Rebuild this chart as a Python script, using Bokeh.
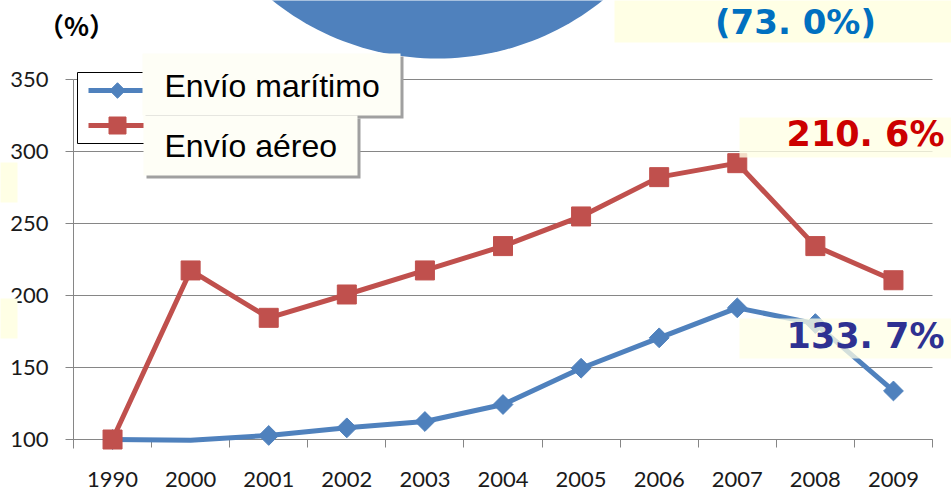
import math

from bokeh.embed import file_html
from bokeh.models import (BoxAnnotation, CDSView, ColumnDataSource, FixedTicker,
                          IndexFilter, Label, PolyAnnotation, Range1d)
from bokeh.plotting import figure
from bokeh.resources import INLINE

# ---- data -------------------------------------------------------------
years = ["1990", "2000", "2001", "2002", "2003", "2004",
         "2005", "2006", "2007", "2008", "2009"]
maritimo = [100.0, 99.5, 102.8, 108.1, 112.5, 124.3,
            149.5, 170.6, 191.4, 180.5, 133.7]
aereo = [100.0, 217.4, 184.5, 200.7, 217.4, 234.3,
         254.9, 282.2, 291.9, 234.3, 210.6]
y_ticks = [100, 150, 200, 250, 300, 350]
series_names = ["Envío marítimo", "Envío aéreo"]
share_pct = 73.0
unit_label = "（%）"

# ---- styling ----------------------------------------------------------
BLUE = "#4F81BD"
RED = "#C0504D"
GRID = "#868686"
NOTE_FILL = "#FFFFE5"
CALLOUT_FILL = "#FEFEF6"
SHADOW = "#A0A0A0"

W, H = 951, 490
AXIS_L, AXIS_R = 73, 932            # pixel columns of the category span
AXIS_T, AXIS_B = 79, 439            # pixel rows of y=350 and y=100
PX_PER_CAT = (AXIS_R - AXIS_L) / len(years)
PX_PER_UNIT = (AXIS_B - AXIS_T) / (y_ticks[-1] - y_ticks[0])
TEXT_DY = 12                        # alphabetic-baseline correction for labels


def xd(px):
    """Canvas pixel column -> x data coordinate."""
    return (px - AXIS_L) / PX_PER_CAT - 0.5


def yd(py):
    """Canvas pixel row -> y data coordinate."""
    return y_ticks[-1] - (py - AXIS_T) / PX_PER_UNIT


def pct_text(v):
    return f"{v:.1f}".replace(".", ". ") + "%"


x_lo, x_hi = -0.5, len(years) - 0.5

p = figure(width=W, height=H,
           x_range=Range1d(xd(0), xd(W)),
           y_range=Range1d(yd(H), yd(0)),
           output_backend="svg", toolbar_location=None,
           min_border_left=0, min_border_right=0,
           min_border_top=0, min_border_bottom=0)
p.outline_line_color = None
p.background_fill_color = "white"
p.border_fill_color = "white"

# ---- axes (pinned inside the frame) -----------------------------------
xa = p.xaxis[0]
xa.fixed_location = y_ticks[0]
xa.bounds = (x_lo, x_hi)
xa.level = "underlay"
xa.ticker = FixedTicker(ticks=list(range(len(years))),
                        minor_ticks=[i - 0.5 for i in range(len(years) + 1)])
xa.major_label_overrides = {i: y for i, y in enumerate(years)}
xa.axis_line_color = GRID
xa.major_tick_line_color = None
xa.major_tick_in = 0
xa.major_tick_out = 0
xa.minor_tick_line_color = GRID
xa.minor_tick_in = 0
xa.minor_tick_out = 8
xa.major_label_standoff = 24
xa.major_label_text_font = "Lato"
xa.major_label_text_font_size = "22px"
xa.major_label_text_color = "#1a1a1a"

ya = p.yaxis[0]
ya.fixed_location = x_lo
ya.bounds = (yd(448), y_ticks[-1])
ya.level = "underlay"
ya.ticker = FixedTicker(ticks=y_ticks, minor_ticks=[])
ya.axis_line_color = GRID
ya.major_tick_line_color = GRID
ya.major_tick_in = 0
ya.major_tick_out = 8
ya.minor_tick_line_color = None
ya.major_label_standoff = 17
ya.major_label_text_font = "Lato"
ya.major_label_text_font_size = "22px"
ya.major_label_text_color = "#1a1a1a"

p.xgrid.visible = False
grid = p.ygrid[0]
grid.ticker = FixedTicker(ticks=y_ticks, minor_ticks=[])
if "cross_bounds" in grid.properties():
    grid.cross_bounds = (x_lo, x_hi)
    grid.grid_line_color = GRID
    grid.grid_line_width = 1
else:
    grid.visible = False
    p.segment(x0=x_lo, x1=x_hi, y0=y_ticks, y1=y_ticks,
              line_color=GRID, line_width=1, level="underlay")


# ---- helpers for boxes and texts placed by canvas pixels -----------------
def note_box(l, t, r, b, color=NOTE_FILL, alpha=1.0, level="annotation",
             border=None):
    p.add_layout(BoxAnnotation(left=xd(l), right=xd(r), top=yd(t), bottom=yd(b),
                               fill_color=color, fill_alpha=alpha,
                               line_color=border, line_alpha=1 if border else 0,
                               line_width=1, level=level))


def note_text(x, base, text, font, size, color, align, bold=False, level="annotation"):
    p.add_layout(Label(x=xd(x), y=yd(base - TEXT_DY), text=text,
                       text_font=font, text_font_size=size,
                       text_font_style="bold" if bold else "normal",
                       text_color=color, text_align=align,
                       text_baseline="alphabetic", level=level))


# legend frame (drawn under the swatches, over the grid)
note_box(77, 72, 260, 143, color="white", level="underlay", border="black")

# ---- series -----------------------------------------------------------
src = ColumnDataSource(dict(x=list(range(len(years))),
                            maritimo=maritimo, aereo=aereo))

m_line = p.line("x", "maritimo", source=src, line_color=BLUE,
                line_width=5, line_join="round")
m_view = CDSView(filter=IndexFilter([i for i, y in enumerate(years) if y != "2000"]))
m_pts = p.scatter("x", "maritimo", source=src, view=m_view, marker="square",
                  angle=math.pi / 4, size=14, fill_color=BLUE, line_color=BLUE)

a_line = p.line("x", "aereo", source=src, line_color=RED,
                line_width=5, line_join="round")
a_pts = p.scatter("x", "aereo", source=src, marker="square", size=19,
                  fill_color=RED, line_color=RED)

# legend swatches
for row_y, color, marker, angle, size in [(90, BLUE, "square", math.pi / 4, 11),
                                          (125, RED, "square", 0.0, 17)]:
    p.line(x=[xd(88), xd(150)], y=[yd(row_y), yd(row_y)],
           line_color=color, line_width=5)
    p.scatter(x=[xd(117)], y=[yd(row_y)], marker=marker, angle=angle,
              size=size, fill_color=color, line_color=color)

# ---- decorations --------------------------------------------------------
note_box(-10, 162, 17, 202)
note_box(-10, 298, 17, 338)

cx, cy, rad = 437, -206, 264
ring = [(cx + rad * math.cos(2 * math.pi * k / 240),
         cy + rad * math.sin(2 * math.pi * k / 240)) for k in range(240)]
p.add_layout(PolyAnnotation(xs=[xd(a) for a, _ in ring], ys=[yd(b) for _, b in ring],
                            fill_color=BLUE, fill_alpha=1.0,
                            line_color=None, line_alpha=0))

# series-name callouts over the legend
for (l, t, r, b), text, base in [((142, 53, 400, 115), series_names[0], 97),
                                 ((143, 115, 357, 175), series_names[1], 157)]:
    note_box(l + 3, t + 3, r + 3, b + 3, color=SHADOW)
    note_box(l, t, r, b, color=CALLOUT_FILL)
    note_text(164, base, text, "Liberation Sans", "32px", "black", "left")

# value notes
note_box(614, -10, 960, 42)
note_text(795, 33, "(" + pct_text(share_pct) + ")", "DejaVu Sans", "34px",
          "#0070C0", "center", bold=True)

note_box(739, 117, 960, 157, alpha=0.8)
note_text(944, 145, pct_text(aereo[-1]), "DejaVu Sans", "35px",
          "#CC0000", "right", bold=True)

note_box(739, 318, 960, 358, alpha=0.75)
note_text(944, 347, pct_text(maritimo[-1]), "DejaVu Sans", "35px",
          "#2E3192", "right", bold=True)

note_text(76, 36, unit_label, "Noto Sans CJK JP", "26px", "black", "center",
          bold=True)

open("out.html", "w").write(file_html(p, INLINE))
